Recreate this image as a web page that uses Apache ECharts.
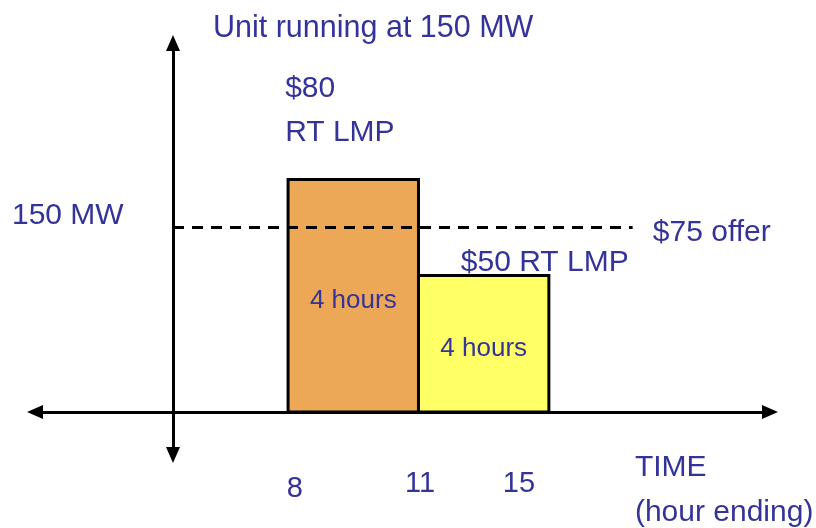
<!DOCTYPE html>
<html>
<head>
<meta charset="utf-8">
<script src="https://cdn.jsdelivr.net/npm/echarts@6/dist/echarts.min.js"></script>
<style>
html,body{margin:0;padding:0;background:#fff;}
#chart{width:816px;height:528px;}
</style>
</head>
<body>
<div id="chart"></div>
<script>
// ---- data (schematic units: x = hours from the vertical axis, y = arbitrary level) ----
const chartTitle = 'Unit running at 150 MW';
const segStart = [3.53, 7.53];
const segEnd = [7.53, 11.53];
const segLevel = [63, 37];
const segText = ['4 hours', '4 hours'];
const segTextY = [30.2, 17.2];
const offerLevel = 50;
const offerFrom = 0;
const offerTo = 14.1;
const tickLabels = ['8', '11', '15'];
const tickX = [3.74, 7.58, 10.61];
const tickY = [-20.8, -19.4, -19.4];
const noteText = ['$80', 'RT LMP', '150 MW', '$75 offer', '$50 RT LMP', 'TIME', '(hour ending)'];
const noteX = [3.44, 3.44, -4.94, 14.72, 8.83, 14.17, 14.17];
const noteY = [87.6, 75.7, 53.2, 48.6, 40.5, -15.1, -27.3];

const segColors = ['#EDA857', '#FFFF66'];
const textColor = '#333399';
const fontFamily = '"Liberation Sans", Arial, sans-serif';

const chart = echarts.init(document.getElementById('chart'), null, {renderer: 'canvas'});

const barData = segStart.map((s, i) => [s, segEnd[i], segLevel[i], i]);
const segLabelData = segStart.map((s, i) => ({value: [(s + segEnd[i]) / 2, segTextY[i]], name: segText[i]}));
const tickData = tickLabels.map((t, i) => ({value: [tickX[i], tickY[i]], name: t}));
const noteData = noteText.map((t, i) => ({value: [noteX[i], noteY[i]], name: t}));

const axisLineCommon = {
  show: true,
  symbol: ['triangle', 'triangle'],
  symbolSize: [14, 16],
  lineStyle: {color: '#000', width: 3}
};

function textSeries(data, size, align) {
  return {
    type: 'scatter',
    z: 4,
    clip: false,
    symbolSize: 0,
    itemStyle: {opacity: 1, color: textColor},
    data: data,
    label: {
      show: true, position: 'inside', formatter: '{b}', opacity: 1,
      color: textColor, fontSize: size, fontFamily: fontFamily,
      align: align, verticalAlign: 'middle'
    }
  };
}

chart.setOption({
  animation: false,
  backgroundColor: '#fff',
  title: {
    text: chartTitle,
    left: 213,
    top: 13,
    padding: 0,
    textStyle: {color: textColor, fontSize: 30.5, fontWeight: 'normal', fontFamily: fontFamily}
  },
  grid: {left: 35, right: 46, top: 43, bottom: 73},
  xAxis: {
    type: 'value',
    min: -4.233,
    max: 18.313,
    axisLine: Object.assign({onZero: true}, axisLineCommon),
    axisTick: {show: false},
    axisLabel: {show: false},
    splitLine: {show: false}
  },
  yAxis: {
    type: 'value',
    min: -11.65,
    max: 100,
    axisLine: Object.assign({onZero: true}, axisLineCommon),
    axisTick: {show: false},
    axisLabel: {show: false},
    splitLine: {show: false}
  },
  series: [
    {
      type: 'custom',
      z: 2,
      data: barData,
      renderItem: function (params, api) {
        const p0 = api.coord([api.value(0), 0]);
        const p1 = api.coord([api.value(1), api.value(2)]);
        return {
          type: 'rect',
          shape: {x: p0[0], y: p1[1], width: p1[0] - p0[0], height: p0[1] - p1[1]},
          style: {fill: segColors[api.value(3)], stroke: '#000', lineWidth: 3}
        };
      }
    },
    {
      type: 'line',
      z: 3,
      data: [[offerFrom, offerLevel], [offerTo, offerLevel]],
      symbol: 'none',
      lineStyle: {color: '#000', width: 3, type: [11, 8]}
    },
    textSeries(segLabelData, 26, 'center'),
    textSeries(tickData, 29, 'center'),
    textSeries(noteData, 30, 'left')
  ]
});
</script>
</body>
</html>
